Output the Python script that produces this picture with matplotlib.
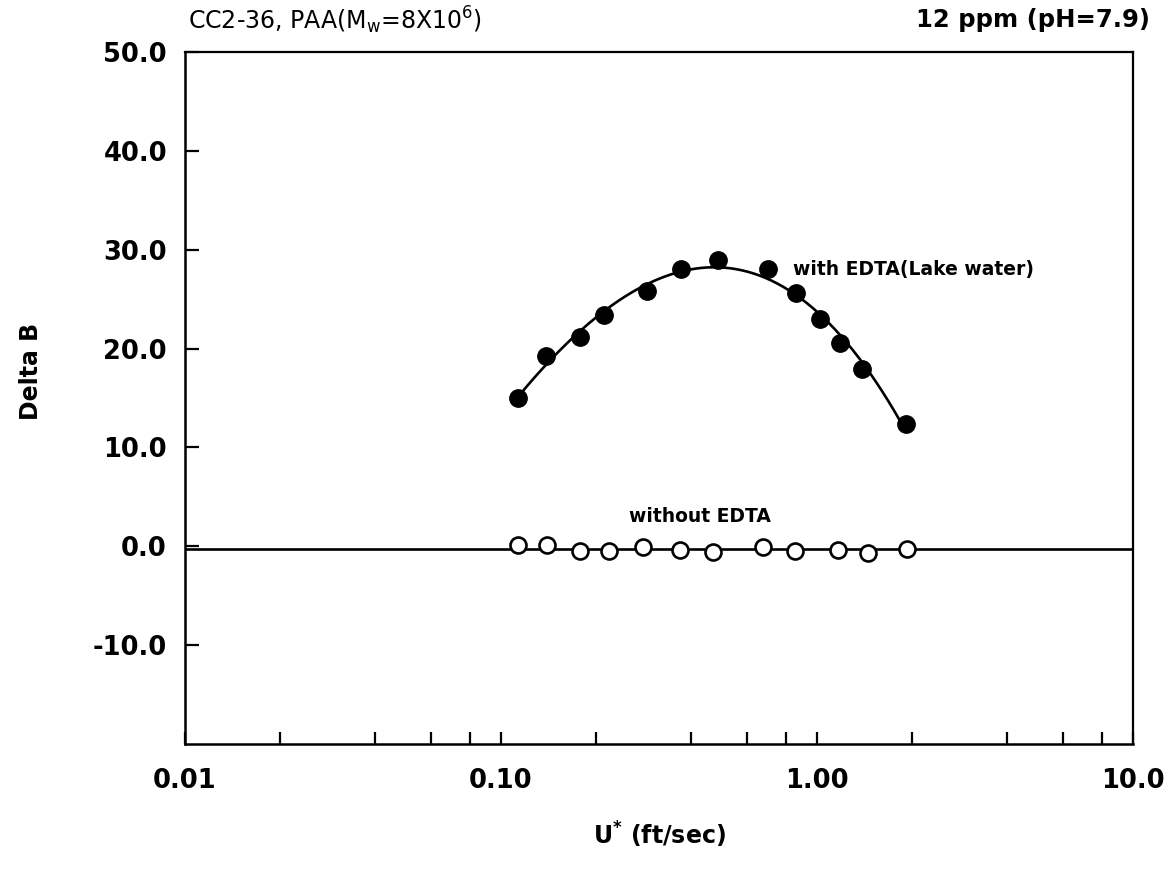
import numpy as np
import matplotlib
matplotlib.use("Agg")
import matplotlib.pyplot as plt
from matplotlib.ticker import FixedLocator, NullFormatter

# ---- data ----
u_with = [0.113, 0.139, 0.178, 0.212, 0.289, 0.370, 0.485, 0.701, 0.856, 1.022, 1.182, 1.391, 1.909]
db_with = [15.0, 19.2, 21.2, 23.4, 25.8, 28.0, 29.0, 28.0, 25.6, 23.0, 20.6, 17.9, 12.4]

u_without = [0.113, 0.140, 0.178, 0.220, 0.281, 0.369, 0.470, 0.673, 0.852, 1.168, 1.453, 1.923]
db_without = [0.13, 0.13, -0.43, -0.43, -0.03, -0.37, -0.53, -0.03, -0.47, -0.37, -0.64, -0.30]

x_major = [0.01, 0.1, 1.0, 10.0]
x_major_labels = ["0.01", "0.10", "1.00", "10.0"]
x_minor = [0.02, 0.04, 0.06, 0.08, 0.2, 0.4, 0.6, 0.8, 2.0, 4.0, 6.0, 8.0]
y_ticks = [50, 40, 30, 20, 10, 0, -10]
y_tick_labels = ["50.0", "40.0", "30.0", "20.0", "10.0", "0.0", "-10.0"]

title_left = r"CC2-36, PAA(M$_{\rm w}$=8X10$^{6}$)"
title_right = "12 ppm (pH=7.9)"
label_with = "with EDTA(Lake water)"
label_without = "without EDTA"

# ---- figure ----
fig = plt.figure(figsize=(11.7, 8.73), dpi=100)
ax = fig.add_axes([185 / 1170, 129 / 873, 948 / 1170, 692 / 873])
ax.set_xscale("log")
ax.set_xlim(0.01, 10.0)
ax.set_ylim(-20, 50)

# smooth fitted curve through the EDTA points (polynomial in log u)
lw = np.log10(u_with)
p = np.polyfit(lw, db_with, 3)
xs = np.linspace(lw[0], lw[-1], 200)
ax.plot(10 ** xs, np.polyval(p, xs), color="black", lw=1.9, zorder=2)

# mean level of the no-EDTA points, across the whole axis
ax.axhline(np.mean(db_without), color="black", lw=1.9, zorder=2)

ax.plot(u_with, db_with, "o", color="black", ms=12.5, zorder=3)
ax.plot(u_without, db_without, "o", mfc="white", mec="black", mew=1.9, ms=11.5, zorder=3)

ax.text(0.84, 28.0, label_with, fontsize=13.5, fontweight="bold", va="center", ha="left")
ax.text(0.427, 3.0, label_without, fontsize=13.5, fontweight="bold", va="center", ha="center")

# ticks
ax.xaxis.set_major_locator(FixedLocator(x_major))
ax.set_xticklabels(x_major_labels)
ax.xaxis.set_minor_locator(FixedLocator(x_minor))
ax.xaxis.set_minor_formatter(NullFormatter())
ax.set_yticks(y_ticks)
ax.set_yticklabels(y_tick_labels)

ax.tick_params(axis="both", which="both", direction="in", width=1.6, top=False, right=False)
ax.tick_params(axis="x", which="both", length=9, pad=17, labelsize=18.5)
ax.tick_params(axis="y", which="major", length=10, pad=13, labelsize=18.5)
for lab in ax.get_xticklabels() + ax.get_yticklabels():
    lab.set_fontweight("bold")

for s in ["left", "bottom"]:
    ax.spines[s].set_linewidth(1.8)
for s in ["top", "right"]:
    ax.spines[s].set_linewidth(1.6)

ax.set_xlabel(r"U$^{\mathbf{*}}$ (ft/sec)", fontsize=17, fontweight="bold")
ax.xaxis.set_label_coords(0.5, -(820 - 744) / 692)
ax.set_ylabel("Delta B", fontsize=17, fontweight="bold")
ax.yaxis.set_label_coords(-(185 - 43) / 948, 0.538)

ax.text(0.003, 1.0 + (52 - 20) / 692, title_left, transform=ax.transAxes,
        fontsize=17, ha="left", va="center")
ax.text((1150 - 185) / 948, 1.0 + (52 - 20) / 692, title_right, transform=ax.transAxes,
        fontsize=17.5, fontweight="bold", ha="right", va="center")

fig.savefig("out.png", dpi=100)
